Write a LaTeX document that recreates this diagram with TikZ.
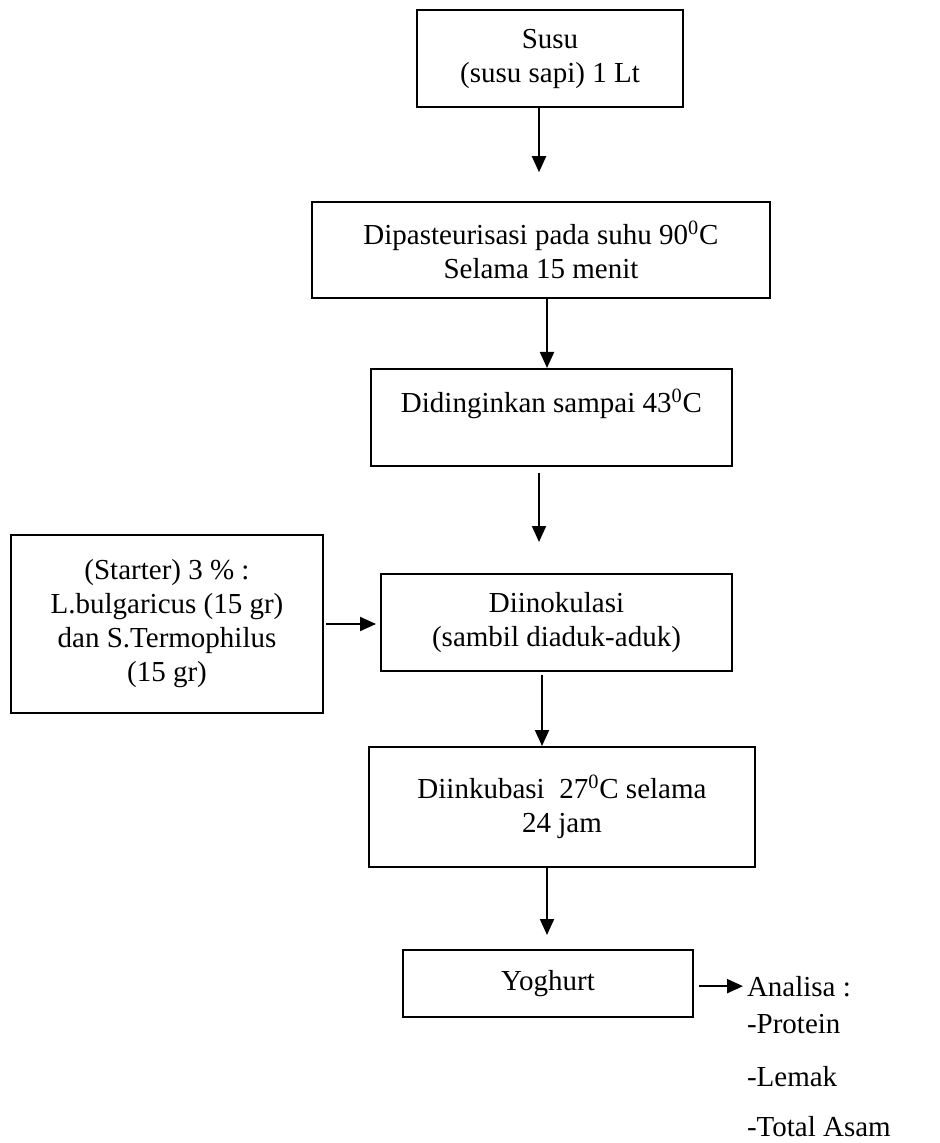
\documentclass[tikz,border=0pt]{standalone}
\usepackage{fontspec}
\setmainfont{Liberation Serif}
\usetikzlibrary{arrows.meta}
\tikzset{every node/.style={font=\fontsize{14.5}{17}\selectfont},
         procbox/.style={draw,rectangle,align=center,inner sep=2pt},
         listline/.style={anchor=base west,inner sep=0pt}}

\begin{document}
\begin{tikzpicture}[x=0.5pt,y=-0.5pt,line width=1pt,
    >={Triangle[length=8pt,width=7pt]}]
    \useasboundingbox (0,0) rectangle (939,1143);

    \node[procbox,minimum width=133pt,minimum height=48.5pt] (susu) at
    (550,58.5) {Susu\\(susu sapi) 1 Lt};
    \node[procbox,minimum width=229pt,minimum height=47.75pt] (pas) at
    (541,250) {Dipasteurisasi pada suhu 90\textsuperscript{0}C\\Selama 15 menit};
    \node[procbox,minimum width=180.5pt,minimum height=48.5pt] (dingin) at
    (551.5,417.5) {Didinginkan sampai 43\textsuperscript{0}C\\~};

    \node[procbox,minimum width=156pt,minimum height=89pt] (starter) at
    (167,624) {(Starter) 3 \% :\\L.bulgaricus (15 gr)\\dan S.Termophilus\\(15 gr)};
    \node[procbox,minimum width=175.5pt,minimum height=48.5pt] (inok) at
    (556.5,622.5) {Diinokulasi\\(sambil diaduk-aduk)};
    \node[procbox,minimum width=193pt,minimum height=60pt] (inkub) at
    (562,807) {Diinkubasi~ 27\textsuperscript{0}C selama\\24 jam};
    \node[procbox,minimum width=145pt,minimum height=33.5pt] (yog) at
    (548,983.5) {Yoghurt};

    \node[listline] (ana) at (746,996) {Analisa :}; \node[listline]
    (prot) at (746,1033) {-Protein}; \node[listline] (lemak) at
    (746,1086) {-Lemak}; \node[listline] (asam) at (746,1136) {-Total Asam};

    \draw[->,shorten >=14.5pt] ([xshift=-5.5pt]susu.south) --
    ([xshift=-5.5pt]susu.south |- pas.north);
    \draw[->] ([xshift=3pt]pas.south) -- ([xshift=3pt]pas.south |- dingin.north);
    \draw[->,shorten <=3pt,shorten >=15.5pt] ([xshift=-6.25pt]dingin.south) --
    ([xshift=-6.25pt]dingin.south |- inok.north);
    \draw[->,shorten <=1pt,shorten >=2pt] (starter.east) -- (starter.east -| inok.west);
    \draw[->,shorten <=1.5pt] ([xshift=-7.25pt]inok.south) --
    ([xshift=-7.25pt]inok.south |- inkub.north);
    \draw[->,shorten >=7pt] ([xshift=-7.5pt]inkub.south) --
    ([xshift=-7.5pt]inkub.south |- yog.north);
    \draw[->,shorten <=2.5pt,shorten >=1.5pt] (yog.east |- ana.west) -- (ana.west);

  \end{tikzpicture}
\end{document}
